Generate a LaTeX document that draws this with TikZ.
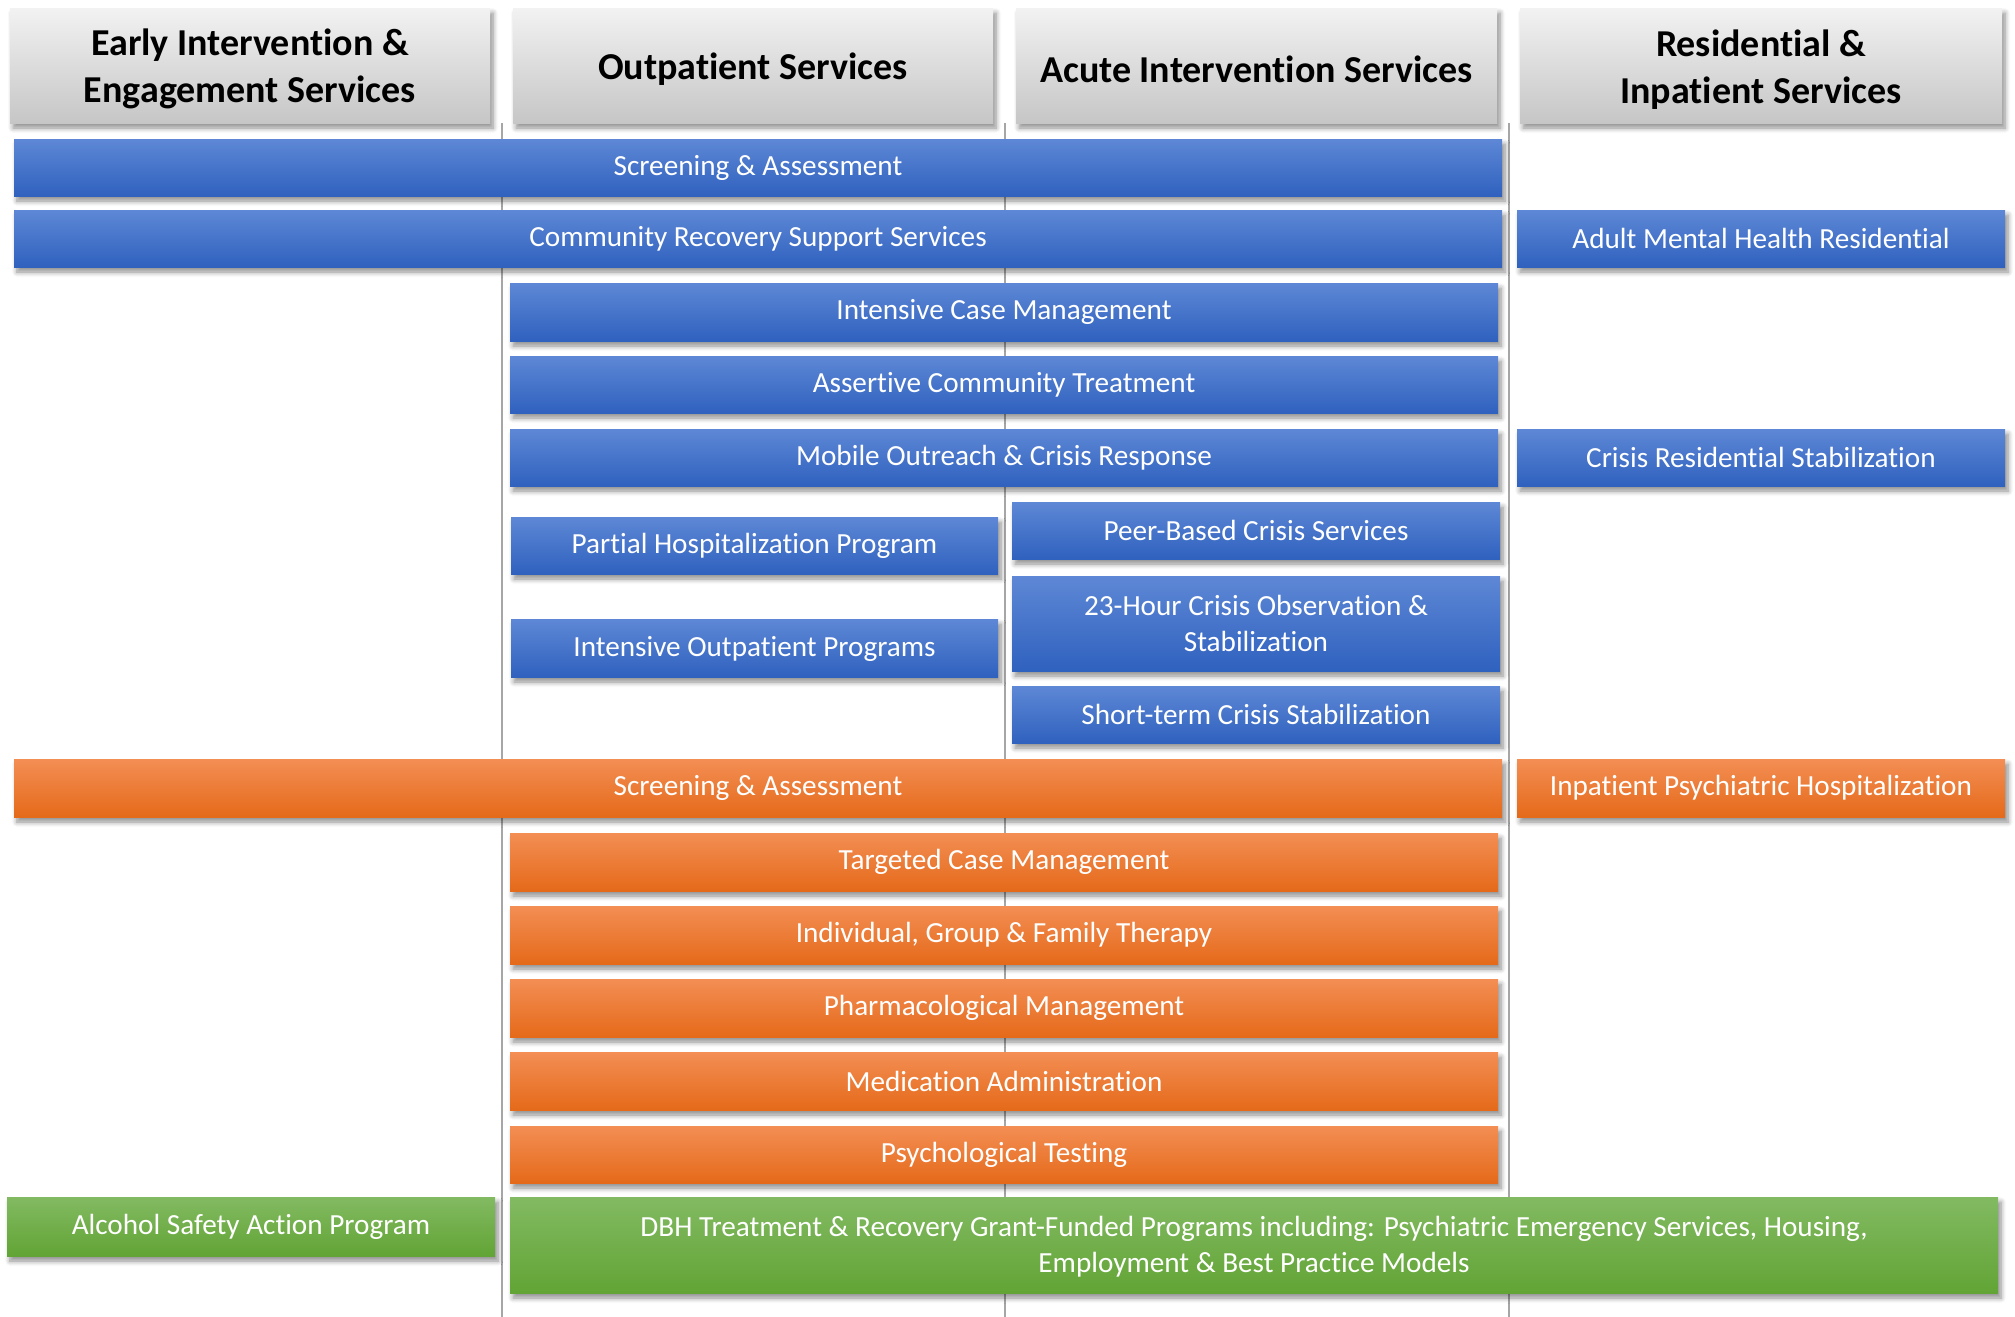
\documentclass[tikz,border=0pt]{standalone}
\usepackage{fontspec}
\setmainfont{Carlito}[Ligatures=NoCommon]
\usetikzlibrary{shadows.blur}
\definecolor{bluetop}{RGB}{94,136,214}
\definecolor{bluebot}{RGB}{47,97,190}
\definecolor{orangetop}{RGB}{243,142,84}
\definecolor{orangebot}{RGB}{229,106,26}
\definecolor{greentop}{RGB}{130,186,98}
\definecolor{greenbot}{RGB}{98,164,53}
\definecolor{graytop}{RGB}{242,242,242}
\definecolor{graybot}{RGB}{198,198,198}
\definecolor{divgray}{RGB}{166,166,166}
\newcommand\svcbox[7]{\node[#6, minimum width={(#4-#2)*0.5pt}, minimum height={(#5-#3)*0.5pt}] (#1) at ({(#2+#4)/2},{(#3+#5)/2}) {#7};}
\newcommand\hstrut{\rule{0pt}{17pt}}
\newcommand\bstrut{\rule{0pt}{11.5pt}}
\begin{document}
\begin{tikzpicture}[x=0.5pt,y=-0.5pt,
  shad/.style={blur shadow={shadow xshift=1.5pt, shadow yshift=-2.5pt, shadow opacity=45, shadow blur radius=2.5pt, shadow blur steps=6}},
  box/.style={inner sep=0pt, text=white, align=center, font=\fontsize{14.6}{18}\selectfont, shad},
  bluebox/.style={box, top color=bluetop, bottom color=bluebot},
  orangebox/.style={box, top color=orangetop, bottom color=orangebot},
  greenbox/.style={box, top color=greentop, bottom color=greenbot},
  head/.style={inner sep=0pt, align=center, text=black, font=\bfseries\fontsize{19}{23.5}\selectfont, top color=graytop, bottom color=graybot, shad},
  divider/.style={draw=divgray, line width=1pt}]
\useasboundingbox (0,0) rectangle (2015,1317);
% dividers
\coordinate (d1t) at (501.5,123); \coordinate (d1b) at (501.5,1317);
\coordinate (d2t) at (1005,123); \coordinate (d2b) at (1005,1317);
\coordinate (d3t) at (1508.5,123); \coordinate (d3b) at (1508.5,1317);
\draw[divider] (d1t) -- (d1b);
\draw[divider] (d2t) -- (d2b);
\draw[divider] (d3t) -- (d3b);
% headers
\svcbox{h1}{10}{8}{490}{123}{head}{\hstrut Early Intervention \&\\Engagement Services}
\svcbox{h2}{513}{8}{993}{123}{head}{\hstrut Outpatient Services}
\svcbox{h3}{1016}{8}{1497}{123}{head}{\hstrut Acute Intervention Services}
\svcbox{h4}{1520}{8}{2002}{123}{head}{\hstrut Residential \&\\Inpatient Services}
% blue rows
\svcbox{sa1}{14}{139}{1502}{196}{bluebox}{Screening \& Assessment}
\svcbox{crss}{14}{210}{1502}{267}{bluebox}{Community Recovery Support Services}
\svcbox{amhr}{1517}{210}{2005}{267}{bluebox}{Adult Mental Health Residential}
\svcbox{icm}{510}{283}{1498}{341}{bluebox}{Intensive Case Management}
\svcbox{act}{510}{356}{1498}{413}{bluebox}{Assertive Community Treatment}
\svcbox{mocr}{510}{429}{1498}{486}{bluebox}{Mobile Outreach \& Crisis Response}
\svcbox{crs}{1517}{429}{2005}{486}{bluebox}{Crisis Residential Stabilization}
\svcbox{php}{511}{517}{998}{574}{bluebox}{Partial Hospitalization Program}
\svcbox{iop}{511}{619}{998}{677}{bluebox}{\bstrut Intensive Outpatient Programs}
\svcbox{pbcs}{1012}{502}{1500}{559}{bluebox}{Peer-Based Crisis Services}
\svcbox{hco}{1012}{576}{1500}{671}{bluebox}{23-Hour Crisis Observation \&\\Stabilization}
\svcbox{stcs}{1012}{686}{1500}{743}{bluebox}{Short-term Crisis Stabilization}
% orange rows
\svcbox{sa2}{14}{759}{1502}{817}{orangebox}{Screening \& Assessment}
\svcbox{iph}{1517}{759}{2005}{817}{orangebox}{Inpatient Psychiatric Hospitalization}
\svcbox{tcm}{510}{833}{1498}{891}{orangebox}{Targeted Case Management}
\svcbox{igft}{510}{906}{1498}{964}{orangebox}{Individual, Group \& Family Therapy}
\svcbox{pm}{510}{979}{1498}{1037}{orangebox}{Pharmacological Management}
\svcbox{ma}{510}{1052}{1498}{1110}{orangebox}{Medication Administration}
\svcbox{pt}{510}{1126}{1498}{1183}{orangebox}{Psychological Testing}
% green rows
\svcbox{asap}{7}{1197}{495}{1256}{greenbox}{Alcohol Safety Action Program}
\svcbox{dbh}{510}{1197}{1998}{1293}{greenbox}{\bstrut DBH Treatment \& Recovery Grant-Funded Programs including: Psychiatric Emergency Services, Housing,\\Employment \& Best Practice Models}
\end{tikzpicture}
\end{document}
